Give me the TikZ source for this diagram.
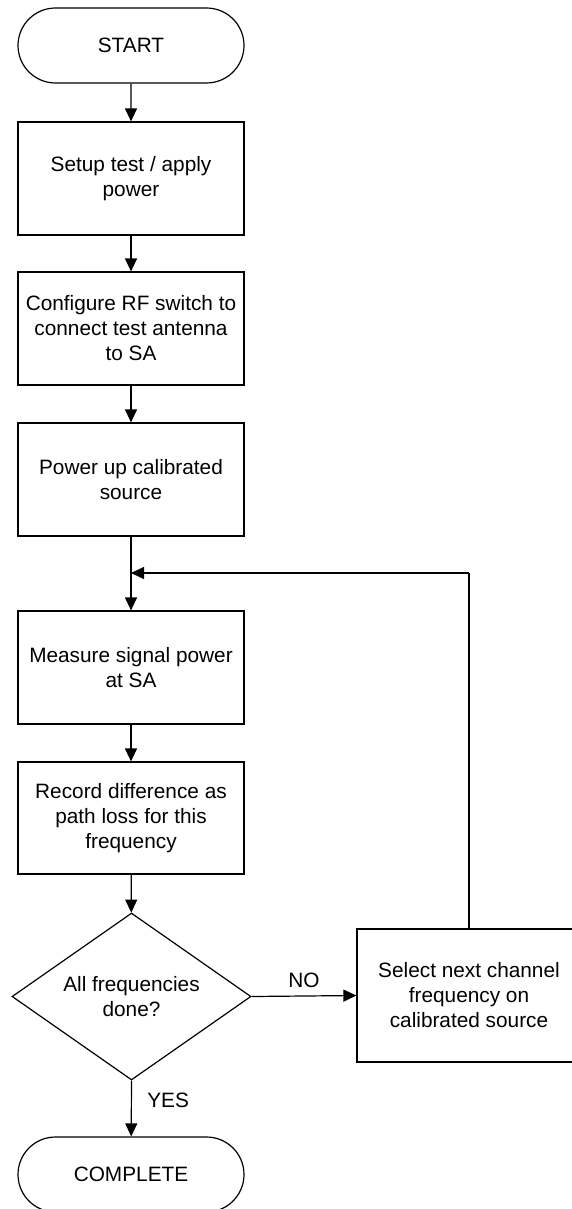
\documentclass[tikz,border=0pt]{standalone}
\usepackage{fontspec}
\setmainfont{Liberation Sans}
\usetikzlibrary{shapes.geometric,shapes.misc,arrows.meta}
\begin{document}
\begin{tikzpicture}[x=1pt,y=-1pt,
  every node/.style={font=\fontsize{20.8}{25}\selectfont, align=center},
  term/.style={draw, line width=1.2pt, rounded rectangle, minimum width=226pt, minimum height=75pt, inner sep=0pt},
  proc/.style={draw, line width=1.2pt, rectangle, minimum width=226pt, minimum height=113pt, inner sep=0pt},
  dec/.style={draw, line width=1.2pt, diamond, aspect=1.431, minimum width=239pt, minimum height=167pt, inner sep=0pt},
  conn/.style={line width=1.2pt, -{Triangle[length=13pt,width=12pt]}},
  plain/.style={font=\fontsize{20.8}{25}\selectfont}
]
\useasboundingbox (0,0) rectangle (572,1209);
\node[term] (start) at (131,45.5) {START};
\node[proc] (b1) at (131,178.5) {Setup test / apply\\power};
\node[proc] (b2) at (131,328.5) {Configure RF switch to\\connect test antenna\\to SA};
\node[proc] (b3) at (131,479.5) {Power up calibrated\\source};
\node[proc] (b4) at (131,667.5) {Measure signal power\\at SA};
\node[proc, minimum height=112pt] (b5) at (131,818) {Record difference as\\path loss for this\\frequency};
\node[dec] (d) at (131.5,996.5) {All frequencies\\done?};
\node[proc, minimum width=224pt, minimum height=133pt] (b6) at (469,995.5) {Select next channel\\frequency on\\calibrated source};
\node[term] (end) at (131,1174.5) {COMPLETE};
\coordinate (join) at (131,573);
\coordinate (turn) at (469,573);

\draw[conn] (start) -- (b1);
\draw[conn] (b1) -- (b2);
\draw[conn] (b2) -- (b3);
\draw[conn] (b3) -- (b4);
\draw[conn] (b4) -- (b5);
\draw[conn] (b5) -- (d);
\draw[conn] (d.east) -- node[above=4pt, plain] {NO} (b6.west);
\draw[conn] (d.south) -- node[right=12pt, pos=0.35, plain] {YES} (end);
\draw[line width=1.2pt] (b6.north) -- (turn);
\draw[conn] (turn) -- (join);
\end{tikzpicture}
\end{document}
